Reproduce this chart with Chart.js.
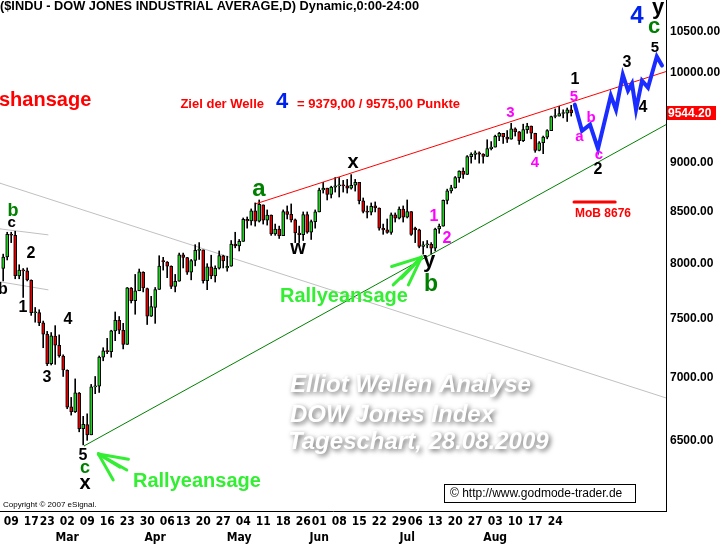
<!DOCTYPE html>
<html>
<head>
<meta charset="utf-8">
<script src="https://cdn.jsdelivr.net/npm/chart.js@4.4.1/dist/chart.umd.min.js"></script>
<style>
  html, body { margin: 0; padding: 0; background: #fff; }
  #wrap { width: 723px; height: 544px; }
</style>
</head>
<body>
<div id="wrap"><canvas id="chart" width="723" height="544"></canvas></div>
<script>
// trading days shown, Feb 5 - Aug 28 2009
const febDays = [5, 6, 9, 10, 11, 12, 13, 17, 18, 19, 20, 23, 24, 25, 26, 27];
const marDays = [2, 3, 4, 5, 6, 9, 10, 11, 12, 13, 16, 17, 18, 19, 20, 23, 24, 25, 26, 27, 30, 31];
const aprDays = [1, 2, 3, 6, 7, 8, 9, 13, 14, 15, 16, 17, 20, 21, 22, 23, 24, 27, 28, 29, 30];
const mayDays = [1, 4, 5, 6, 7, 8, 11, 12, 13, 14, 15, 18, 19, 20, 21, 22, 26, 27, 28, 29];
const junDays = [1, 2, 3, 4, 5, 8, 9, 10, 11, 12, 15, 16, 17, 18, 19, 22, 23, 24, 25, 26, 29, 30];
const julDays = [1, 2, 6, 7, 8, 9, 10, 13, 14, 15, 16, 17, 20, 21, 22, 23, 24, 27, 28, 29, 30, 31];
const augDays = [3, 4, 5, 6, 7, 10, 11, 12, 13, 14, 17, 18, 19, 20, 21, 24, 25, 26, 27, 28];
const monthNames = ['Feb', 'Mar', 'Apr', 'May', 'Jun', 'Jul', 'Aug'];
const monthDays = [febDays, marDays, aprDays, mayDays, junDays, julDays, augDays];

const open = [
  7955, 8063, 8281, 8270, 7887, 7935, 7933, 7845, 7553, 7555, 7465, 7365, 7115, 7350, 7271, 7180,
  7060, 6765, 6727, 6875, 6595, 6625, 6547, 6925, 6930, 7170, 7224, 7217, 7395, 7487, 7400, 7278,
  7775, 7660, 7750, 7920, 7770, 7523, 7600, 7762, 8030, 8015, 7975, 7790, 7837, 8083, 8057, 7920,
  8030, 8125, 8130, 7842, 7970, 7887, 7957, 8075, 7960, 7976, 8186, 8168, 8212, 8426, 8410, 8512,
  8409, 8570, 8419, 8469, 8284, 8331, 8268, 8504, 8475, 8422, 8293, 8277, 8473, 8300, 8404, 8500,
  8721, 8740, 8675, 8750, 8764, 8764, 8763, 8739, 8770, 8799, 8612, 8504, 8497, 8560, 8539, 8339,
  8323, 8299, 8472, 8438, 8529, 8447, 8504, 8340, 8324, 8163, 8178, 8183, 8146, 8332, 8359, 8616,
  8712, 8743, 8848, 8916, 8882, 9069, 9093, 9108, 9096, 9070, 9154, 9171, 9286, 9320, 9280, 9256,
  9370, 9337, 9241, 9361, 9398, 9321, 9135, 9217, 9279, 9350, 9505, 9509, 9539, 9543, 9580
];
const high = [
  8090, 8300, 8300, 8310, 7990, 7955, 7960, 7850, 7600, 7580, 7480, 7390, 7380, 7440, 7360, 7190,
  7065, 6840, 6990, 6880, 6690, 6710, 6945, 7010, 7180, 7250, 7330, 7400, 7560, 7520, 7460, 7780,
  7780, 7900, 7950, 7925, 7775, 7700, 7780, 8075, 8060, 8020, 7980, 7900, 8100, 8100, 8060, 8040,
  8180, 8200, 8130, 8000, 8080, 7980, 8120, 8080, 8070, 8220, 8300, 8230, 8440, 8450, 8530, 8590,
  8620, 8570, 8520, 8470, 8380, 8360, 8520, 8560, 8580, 8430, 8360, 8500, 8500, 8420, 8520, 8740,
  8800, 8740, 8760, 8850, 8850, 8820, 8830, 8880, 8830, 8800, 8640, 8560, 8590, 8600, 8540, 8380,
  8430, 8490, 8490, 8550, 8560, 8620, 8504, 8350, 8330, 8210, 8220, 8200, 8340, 8380, 8620, 8730,
  8770, 8860, 8920, 8950, 9080, 9110, 9130, 9120, 9100, 9250, 9230, 9300, 9330, 9320, 9350, 9430,
  9380, 9340, 9420, 9430, 9400, 9321, 9230, 9290, 9360, 9510, 9590, 9620, 9580, 9600, 9630
];
const low = [
  7840, 8035, 8200, 7860, 7860, 7690, 7840, 7530, 7470, 7440, 7250, 7100, 7105, 7110, 7170, 7010,
  6750, 6700, 6720, 6570, 6470, 6505, 6547, 6870, 6880, 7140, 7200, 7170, 7310, 7370, 7240, 7278,
  7640, 7540, 7750, 7740, 7450, 7520, 7460, 7762, 7940, 7870, 7770, 7740, 7837, 7960, 7900, 7850,
  7980, 8040, 7820, 7760, 7860, 7830, 7950, 7960, 7930, 7976, 8150, 8120, 8212, 8340, 8370, 8360,
  8400, 8380, 8370, 8270, 8270, 8240, 8268, 8430, 8400, 8200, 8200, 8220, 8290, 8230, 8340, 8500,
  8690, 8620, 8640, 8700, 8650, 8700, 8690, 8730, 8710, 8580, 8490, 8440, 8470, 8500, 8320, 8280,
  8290, 8280, 8400, 8430, 8400, 8440, 8270, 8200, 8150, 8090, 8150, 8090, 8120, 8290, 8359, 8580,
  8690, 8740, 8800, 8840, 8880, 9000, 9040, 9000, 9000, 9070, 9140, 9171, 9240, 9210, 9220, 9256,
  9290, 9200, 9230, 9320, 9260, 9115, 9130, 9100, 9260, 9350, 9490, 9510, 9490, 9450, 9510
];
const close = [
  8063, 8280, 8271, 7889, 7940, 7933, 7850, 7553, 7556, 7466, 7366, 7115, 7351, 7271, 7182, 7063,
  6763, 6726, 6876, 6594, 6627, 6547, 6926, 6930, 7170, 7224, 7217, 7396, 7487, 7401, 7278, 7776,
  7660, 7750, 7925, 7776, 7522, 7609, 7762, 7978, 8018, 7976, 7790, 7837, 8083, 8058, 7920, 8030,
  8125, 8131, 7842, 7970, 7887, 7957, 8076, 8025, 7976, 8186, 8168, 8212, 8427, 8410, 8512, 8409,
  8575, 8419, 8469, 8284, 8331, 8268, 8504, 8475, 8422, 8293, 8277, 8473, 8300, 8404, 8500, 8721,
  8740, 8675, 8750, 8764, 8764, 8763, 8739, 8770, 8799, 8612, 8504, 8497, 8555, 8539, 8339, 8323,
  8299, 8472, 8438, 8529, 8447, 8504, 8280, 8324, 8163, 8178, 8183, 8146, 8332, 8359, 8616, 8712,
  8743, 8848, 8916, 8882, 9069, 9093, 9108, 9096, 9070, 9154, 9171, 9286, 9320, 9280, 9256, 9370,
  9337, 9241, 9361, 9398, 9321, 9135, 9217, 9279, 9350, 9505, 9509, 9539, 9543, 9580, 9544
];

const yTicks = [6500, 7000, 7500, 8000, 8500, 9000, 10000, 10500];
const lastPrice = 9544.20;

// lines drawn on the chart, as (trading-day index, price)
const resistanceLine = [{ x: 63.2, y: 8582 }, { x: 165.7, y: 10019 }];
const supportLine = [{ x: 20.2, y: 6462 }, { x: 165.7, y: 9415 }];
const oldDownLine = [{ x: -0.8, y: 8791 }, { x: 165.7, y: 6836 }];
const oldLineTop = [{ x: -0.8, y: 8333 }, { x: 11.2, y: 8275 }];
const oldLineBottom = [{ x: -0.8, y: 7832 }, { x: 11.2, y: 7759 }];
const projX = [142.9, 144.7, 146.7, 148.7, 151.9, 153.2, 154.9, 156.2, 157.2, 158.2, 159.7, 161.2, 163.4, 164.7];
const projY = [9638, 9348, 9415, 9153, 9741, 9581, 9982, 9798, 9879, 9581, 9913, 9832, 10197, 10090];
const mobLine = [{ x: 142.7, y: 8600 }, { x: 153, y: 8600 }];
const arrowLow = { tip: { x: 23.8, y: 6402 }, ends: [{ x: 31.3, y: 6362 }, { x: 30.9, y: 6283 }, { x: 29.2, y: 6303 }, { x: 27.5, y: 6210 }] };
const arrowMid = { tip: { x: 104.6, y: 8062 }, ends: [{ x: 97.1, y: 7974 }, { x: 97.5, y: 7804 }, { x: 99.6, y: 7866 }, { x: 101.3, y: 7804 }] };

// x tick labels from the dates: first day of each week, first day of each month
const dates = [];
monthDays.forEach((days, m) => days.forEach(d => dates.push({ month: m + 1, day: d })));
const tickLabels = {};
dates.forEach((dt, i) => {
  if (i === 0) return;
  const prev = dates[i - 1];
  const dow = new Date(2009, dt.month, dt.day).getDay();
  const prevDow = new Date(2009, prev.month, prev.day).getDay();
  const week = dow <= prevDow ? String(dt.day).padStart(2, '0') : '';
  const mon = dt.month !== prev.month ? monthNames[dt.month - 1] : '';
  if (week || mon) tickLabels[i] = [week, mon];
});

const SANS = "'Liberation Sans', Arial, sans-serif";
const NARROW = "'Liberation Sans Narrow', 'DejaVu Sans Condensed', 'Liberation Sans', sans-serif";
const idx = close.map((_, i) => i);

function lineSet(points, color, width, order) {
  return { type: 'line', data: points, borderColor: color, borderWidth: width, pointRadius: 0,
           fill: false, tension: 0, order: order, borderCapStyle: 'round' };
}
const arrowSets = [];
[arrowLow, arrowMid].forEach(a => a.ends.forEach(e => arrowSets.push(lineSet([a.tip, e], '#33ee33', 3, 1))));

const annotate = {
  id: 'annotate',
  afterDraw(chart) {
    const ctx = chart.ctx;
    const y = chart.scales.y;
    ctx.save();

    // title
    const title = '($INDU - DOW JONES INDUSTRIAL AVERAGE,D) Dynamic,0:00-24:00';
    ctx.font = 'bold 12px ' + SANS;
    const tw = ctx.measureText(title).width;
    ctx.save();
    ctx.scale(419 / tw, 1);
    ctx.fillStyle = '#000';
    ctx.textBaseline = 'alphabetic';
    ctx.fillText(title, 0, 10);
    ctx.restore();

    // watermark
    ctx.save();
    ctx.font = 'italic bold 24px ' + SANS;
    ctx.fillStyle = '#fff';
    ctx.shadowColor = 'rgba(0,0,0,0.6)';
    ctx.shadowBlur = 5;
    ctx.shadowOffsetX = 2;
    ctx.shadowOffsetY = 2;
    ctx.fillText('Elliot Wellen Analyse', 290, 392);
    ctx.fillText('DOW Jones Index', 290, 422);
    ctx.fillText('Tageschart, 28.08.2009', 288, 449);
    ctx.restore();

    // wave labels
    const labels = [
      ['c', 11.7, 223, 'bold 15px', '#000'], ['2', 31, 254, 'bold 16px', '#000'],
      ['b', 3, 290, 'bold 16px', '#000'], ['1', 23, 308, 'bold 16px', '#000'],
      ['4', 68, 320, 'bold 16px', '#000'], ['3', 47, 378, 'bold 16px', '#000'],
      ['5', 83, 456, 'bold 16px', '#000'], ['x', 85, 483, 'bold 20px', '#000'],
      ['w', 298, 248, 'bold 20px', '#000'], ['x', 353, 162, 'bold 20px', '#000'],
      ['y', 429, 261, 'bold 22px', '#000'], ['1', 575, 80, 'bold 16px', '#000'],
      ['2', 598, 170, 'bold 16px', '#000'], ['3', 627, 63, 'bold 16px', '#000'],
      ['4', 643, 108, 'bold 16px', '#000'], ['5', 655, 48, 'bold 15px', '#000'],
      ['y', 658, 8, 'bold 22px', '#000'],
      ['b', 13, 211, 'bold 18px', '#008000'], ['c', 85, 468, 'bold 18px', '#008000'],
      ['a', 259, 189, 'bold 24px', '#008000'], ['b', 431, 285, 'bold 23px', '#008000'],
      ['c', 654, 27, 'bold 22px', '#008000'],
      ['4', 637, 16, 'bold 24px', '#0022ee'],
      ['1', 434, 217, 'bold 16px', '#ff00ff'], ['2', 447, 239, 'bold 16px', '#ff00ff'],
      ['3', 510.5, 113, 'bold 15px', '#ff00ff'], ['4', 535, 162.5, 'bold 15px', '#ff00ff'],
      ['5', 574, 97, 'bold 15px', '#ff00ff'], ['a', 579.5, 137, 'bold 15px', '#ff00ff'],
      ['b', 591, 118, 'bold 15px', '#ff00ff'], ['c', 599, 155, 'bold 15px', '#ff00ff']
    ];
    ctx.textAlign = 'center';
    ctx.textBaseline = 'middle';
    labels.forEach(([t, x, yy, f, c]) => {
      ctx.font = f + ' ' + SANS;
      ctx.fillStyle = c;
      ctx.fillText(t, x, yy);
    });

    // left-aligned notes
    ctx.textAlign = 'left';
    ctx.fillStyle = '#33ee33';
    ctx.font = 'bold 20px ' + SANS;
    ctx.fillText('Rallyeansage', 280, 296);
    ctx.fillText('Rallyeansage', 133, 481);

    ctx.fillStyle = '#ff0000';
    ctx.fillText('shansage', -1, 100);
    ctx.font = 'bold 13px ' + SANS;
    ctx.textAlign = 'right';
    ctx.fillText('Ziel der Welle', 264, 104);
    ctx.textAlign = 'left';
    ctx.fillText('= 9379,00 / 9575,00 Punkte', 297, 104);
    ctx.font = 'bold 12px ' + SANS;
    ctx.fillText('MoB 8676', 575, 214);
    ctx.fillStyle = '#0022ee';
    ctx.font = 'bold 22px ' + SANS;
    ctx.textAlign = 'center';
    ctx.fillText('4', 282, 102);

    // copyright notes
    ctx.textAlign = 'left';
    ctx.fillStyle = '#000';
    ctx.font = '8px ' + SANS;
    ctx.fillText('Copyright \u00a9 2007 eSignal.', 3, 505);
    ctx.fillStyle = '#fff';
    ctx.fillRect(444.5, 484.5, 191, 18);
    ctx.strokeStyle = '#000';
    ctx.lineWidth = 1;
    ctx.strokeRect(444.5, 484.5, 191, 18);
    ctx.fillStyle = '#000';
    ctx.font = '12px ' + SANS;
    ctx.fillText('\u00a9 http://www.godmode-trader.de', 450, 494);

    // last price tag
    const py = y.getPixelForValue(lastPrice);
    ctx.fillStyle = '#ff0000';
    ctx.fillRect(667, py - 7, 49, 14);
    ctx.fillStyle = '#fff';
    ctx.font = 'bold 12px ' + SANS;
    ctx.fillText(lastPrice.toFixed(2), 668, py + 0.5);

    ctx.restore();
  }
};

new Chart(document.getElementById('chart'), {
  type: 'bar',
  data: {
    datasets: [
      lineSet(oldDownLine, '#c0c0c0', 1, 10),
      lineSet(oldLineTop, '#c0c0c0', 1, 10),
      lineSet(oldLineBottom, '#c0c0c0', 1, 10),
      {
        label: 'wick',
        data: idx.map(i => ({ x: i, y: [low[i], high[i]] })),
        backgroundColor: '#000',
        barThickness: 1,
        grouped: false,
        order: 6
      },
      {
        label: 'body',
        data: idx.map(i => ({ x: i, y: [open[i], close[i]] })),
        backgroundColor: idx.map(i => close[i] >= open[i] ? '#22d022' : '#e00000'),
        borderColor: '#000',
        borderWidth: 1,
        borderSkipped: false,
        barThickness: 3,
        minBarLength: 1,
        grouped: false,
        order: 5
      },
      lineSet(resistanceLine, '#ff0000', 1, 4),
      lineSet(supportLine, '#008000', 1, 4),
      lineSet(projX.map((x, i) => ({ x: x, y: projY[i] })), '#1a2cff', 4, 2),
      lineSet(mobLine, '#ff0000', 3, 2),
      ...arrowSets
    ]
  },
  options: {
    responsive: false,
    animation: false,
    events: [],
    layout: { padding: 0 },
    plugins: { legend: { display: false }, tooltip: { enabled: false } },
    scales: {
      x: {
        type: 'linear', min: -0.8, max: 165.7, offset: false, bounds: 'data',
        grid: { display: false, drawTicks: false },
        border: { display: true, color: '#000', width: 1 },
        afterBuildTicks: s => { s.ticks = Object.keys(tickLabels).map(k => ({ value: +k })); },
        afterFit: s => { s.height = 33; s.paddingLeft = 0; s.paddingRight = 0; },
        ticks: {
          autoSkip: false, maxRotation: 0, minRotation: 0, padding: 2, color: '#000',
          font: { family: NARROW, size: 12, weight: 'bold', lineHeight: 1.4 },
          callback: v => tickLabels[v] || ''
        }
      },
      y: {
        type: 'logarithmic', position: 'right', min: 5988, max: 10895, bounds: 'data',
        grid: { display: false, drawTicks: false },
        border: { display: true, color: '#000', width: 1 },
        afterBuildTicks: s => { s.ticks = yTicks.map(v => ({ value: v })); },
        afterFit: s => { s.width = 57; s.paddingTop = 0; s.paddingBottom = 0; },
        ticks: {
          padding: 4, color: '#000',
          font: { family: SANS, size: 12, weight: 'bold' },
          callback: v => Number(v).toFixed(2)
        }
      }
    }
  },
  plugins: [annotate]
});
</script>
</body>
</html>
